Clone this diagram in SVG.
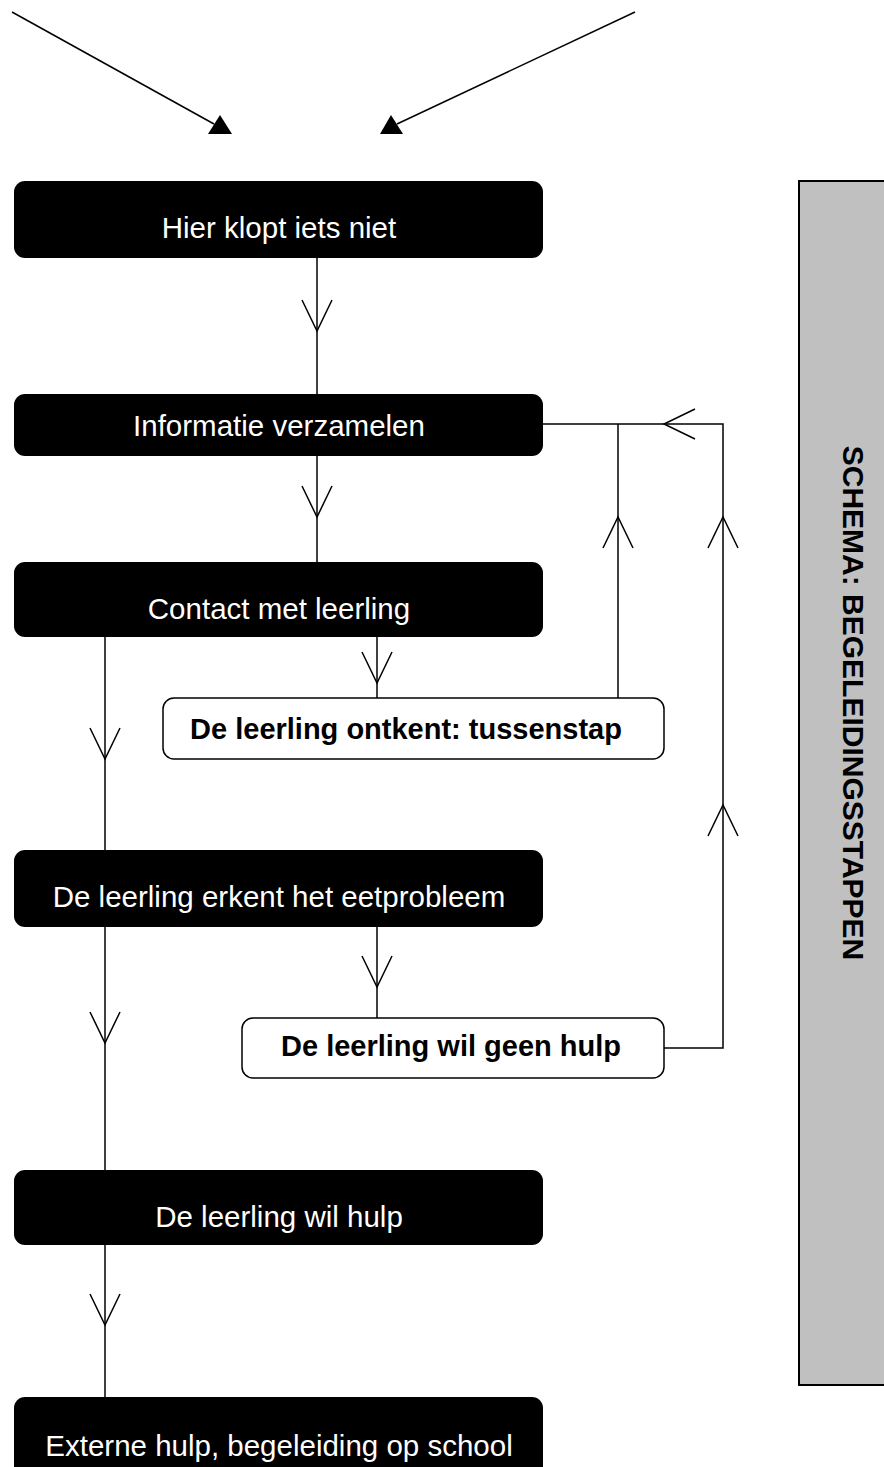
<svg xmlns="http://www.w3.org/2000/svg" width="884" height="1467" viewBox="0 0 884 1467">
<style>
.blk{fill:#000}
.wht{fill:#fff;stroke:#000;stroke-width:1.5}
.t{font-family:"Liberation Sans",Arial,sans-serif;font-size:29.5px;fill:#fff;text-anchor:middle}
.tb{font-family:"Liberation Sans",Arial,sans-serif;font-size:29px;font-weight:bold;fill:#000;text-anchor:middle}
.ln{fill:none;stroke:#000;stroke-width:1.5}
</style>
<defs>
<path id="vdown" d="M-15,-31 L0,0 L15,-31" fill="none" stroke="#000" stroke-width="1.5"/>
</defs>
<g id="panel">
<rect x="799" y="181" width="100" height="1204" fill="#c0c0c0" stroke="#000" stroke-width="2"/>
<text transform="translate(853,703) rotate(90)" font-family="Liberation Sans,Arial,sans-serif" font-size="30" font-weight="bold" text-anchor="middle" dominant-baseline="central" fill="#000">SCHEMA: BEGELEIDINGSSTAPPEN</text>
</g>
<g id="connectors">
<line class="ln" x1="12" y1="12" x2="214" y2="124"/>
<polygon points="208,134 232,134 220,115" fill="#000"/>
<line class="ln" x1="635" y1="12" x2="397" y2="124"/>
<polygon points="380,134 403,134 391,115" fill="#000"/>
<line class="ln" x1="317" y1="258" x2="317" y2="394"/>
<use href="#vdown" x="317" y="331"/>
<line class="ln" x1="317" y1="456" x2="317" y2="562"/>
<use href="#vdown" x="317" y="517"/>
<line class="ln" x1="377" y1="637" x2="377" y2="698"/>
<use href="#vdown" x="377" y="683"/>
<polyline class="ln" points="618,698 618,424"/>
<use href="#vdown" transform="translate(618,517) rotate(180)"/>
<polyline class="ln" points="543,424 723,424 723,1048 664,1048"/>
<use href="#vdown" transform="translate(664,424) rotate(90)"/>
<use href="#vdown" transform="translate(723,517) rotate(180)"/>
<use href="#vdown" transform="translate(723,805) rotate(180)"/>
<line class="ln" x1="105" y1="637" x2="105" y2="850"/>
<use href="#vdown" x="105" y="759"/>
<line class="ln" x1="105" y1="927" x2="105" y2="1170"/>
<use href="#vdown" x="105" y="1043"/>
<line class="ln" x1="377" y1="927" x2="377" y2="1018"/>
<use href="#vdown" x="377" y="987"/>
<line class="ln" x1="105" y1="1245" x2="105" y2="1397"/>
<use href="#vdown" x="105" y="1325"/>
</g>
<g id="n1"><rect class="blk" x="14" y="181" width="529" height="77" rx="11"/><text class="t" x="279" y="238">Hier klopt iets niet</text></g>
<g id="n2"><rect class="blk" x="14" y="394" width="529" height="62" rx="11"/><text class="t" x="279" y="436">Informatie verzamelen</text></g>
<g id="n3"><rect class="blk" x="14" y="562" width="529" height="75" rx="11"/><text class="t" x="279" y="619">Contact met leerling</text></g>
<g id="n4"><rect class="wht" x="163" y="698" width="501" height="61" rx="11"/><text class="tb" x="406" y="739">De leerling ontkent: tussenstap</text></g>
<g id="n5"><rect class="blk" x="14" y="850" width="529" height="77" rx="11"/><text class="t" x="279" y="907">De leerling erkent het eetprobleem</text></g>
<g id="n6"><rect class="wht" x="242" y="1018" width="422" height="60" rx="11"/><text class="tb" x="451" y="1056">De leerling wil geen hulp</text></g>
<g id="n7"><rect class="blk" x="14" y="1170" width="529" height="75" rx="11"/><text class="t" x="279" y="1227">De leerling wil hulp</text></g>
<g id="n8"><rect class="blk" x="14" y="1397" width="529" height="90" rx="11"/><text class="t" x="279" y="1456">Externe hulp, begeleiding op school</text></g>
</svg>
